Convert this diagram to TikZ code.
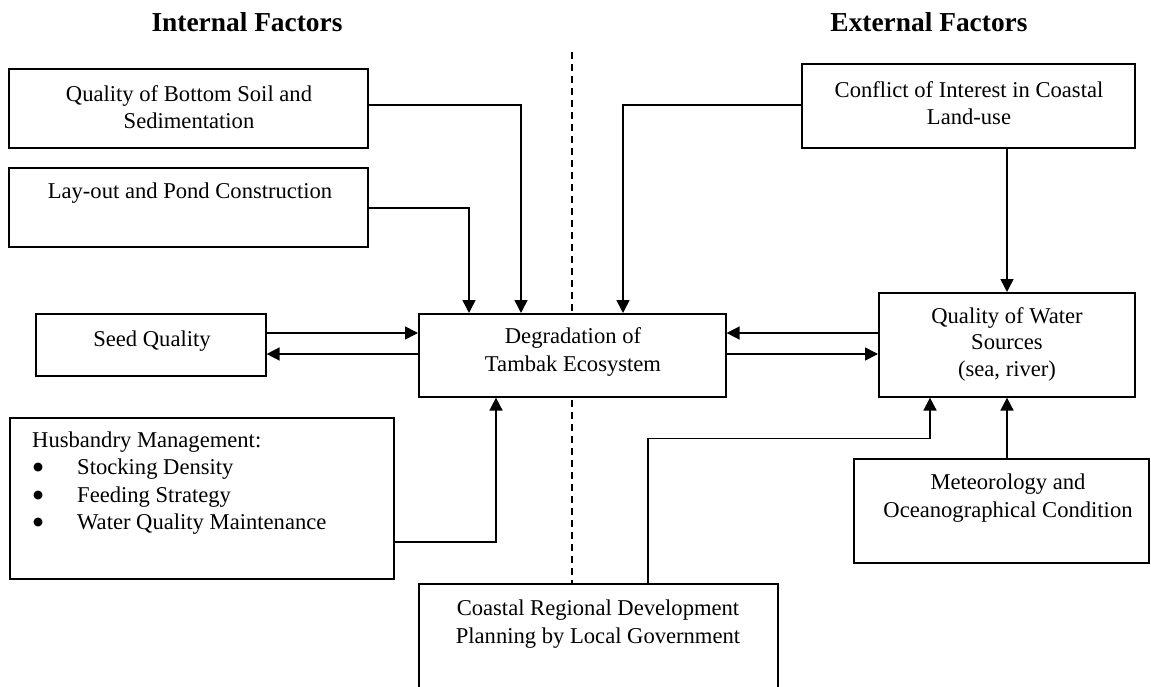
\documentclass[tikz,border=0pt]{standalone}
\usepackage{fontspec}
\setmainfont{Liberation Serif}
\newfontfamily\symfont{DejaVu Sans}
\usetikzlibrary{arrows.meta,calc}
\newcommand{\bigbul}{\makebox[45pt][l]{\hspace{1pt}\raisebox{4pt}{\symfont\fontsize{11.5}{12}\selectfont ●}}}
\begin{document}
\begin{tikzpicture}[x=1pt,y=-1pt,
  box/.style={draw,line width=1.6pt,fill=white,inner sep=0pt,anchor=north west},
  txt/.style={inner sep=0pt,align=center,font=\fontsize{22.6}{27.6}\selectfont},
  head/.style={inner sep=0pt,font=\fontsize{27.4}{33}\selectfont\bfseries},
  arr/.style={line width=1.6pt,-{Triangle[length=13pt,width=13pt]}},
  divider/.style={line width=1.2pt,dash pattern=on 7pt off 5pt}]
\useasboundingbox (0,0) rectangle (1151,687);

% headings
\node[head] (int) at (247,22) {Internal Factors};
\node[head] (ext) at (929,22) {External Factors};

% divider
\coordinate (dtop) at (572,52);
\coordinate (dbot) at (572,583);
\draw[divider] (dtop) -- (dbot);

% boxes
\node[box,minimum width=359,minimum height=79] (soil) at (8,68) {};
\node[txt] (soilT) at (189,107) {Quality of Bottom Soil and\\Sedimentation};

\node[box,minimum width=359,minimum height=79] (layout) at (8,167) {};
\node[txt] (layoutT) at (190,193) {Lay-out and Pond Construction};

\node[box,minimum width=230,minimum height=62] (seed) at (35,313) {};
\node[txt] (seedT) at (152,341) {Seed Quality};

\node[box,minimum width=384,minimum height=161] (husb) at (9,417) {};
\node[txt,align=left,anchor=west] (husbT) at (32,483) {Husbandry Management:\\
\bigbul Stocking Density\\
\bigbul Feeding Strategy\\
\bigbul Water Quality Maintenance};

\node[box,minimum width=307,minimum height=83] (degr) at (418,313) {};
\node[txt] (degrT) at (573,352) {Degradation of\\Tambak Ecosystem};

\node[box,minimum width=333,minimum height=84] (conf) at (801,63) {};
\node[txt] (confT) at (969,103) {Conflict of Interest in Coastal\\Land-use};

\node[box,minimum width=256,minimum height=104] (water) at (878,292) {};
\node[txt,font=\fontsize{22.6}{26.5}\selectfont] (waterT) at (1007,344) {Quality of Water\\Sources\\(sea, river)};

\node[box,minimum width=295,minimum height=104] (meteo) at (853,458) {};
\node[txt] (meteoT) at (1008,498) {Meteorology and\\Oceanographical Condition};

\node[box,minimum width=359,minimum height=106] (coast) at (418,583) {};
\node[txt] (coastT) at (598,624) {Coastal Regional Development\\Planning by Local Government};

% connectors into degradation
\draw[arr] ($(soil.north east)+(0,37)$) -| ($(degr.north west)+(103,0)$);
\draw[arr] ($(layout.north east)+(0,41)$) -| ($(degr.north west)+(51,0)$);
\draw[arr] ($(conf.north west)+(0,42)$) -| ($(degr.north west)+(205,0)$);
\draw[arr] ($(husb.north east)+(0,125)$) -| ($(degr.south west)+(78,0)$);

% seed <-> degradation
\coordinate (sa) at ($(degr.north west)+(0,20)$);
\coordinate (sb) at ($(degr.north west)+(0,41)$);
\draw[arr] (sa -| seed.east) -- (sa);
\draw[arr] (sb) -- (sb -| seed.east);

% degradation <-> water
\coordinate (wa) at ($(degr.north east)+(0,20)$);
\coordinate (wb) at ($(degr.north east)+(0,41)$);
\draw[arr] (wa -| water.west) -- (wa);
\draw[arr] (wb) -- (wb -| water.west);

% into water
\coordinate (wt) at ($(water.north west)+(129,0)$);
\draw[arr] (wt |- conf.south) -- (wt);
\coordinate (ws) at ($(water.south west)+(129,0)$);
\draw[arr] (ws |- meteo.north) -- (ws);
\coordinate (wc) at ($(water.south west)+(52,0)$);
\draw[arr] ($(coast.north west)+(230,0)$) |- ($(wc)+(0,41)$) -- (wc);
\end{tikzpicture}
\end{document}
